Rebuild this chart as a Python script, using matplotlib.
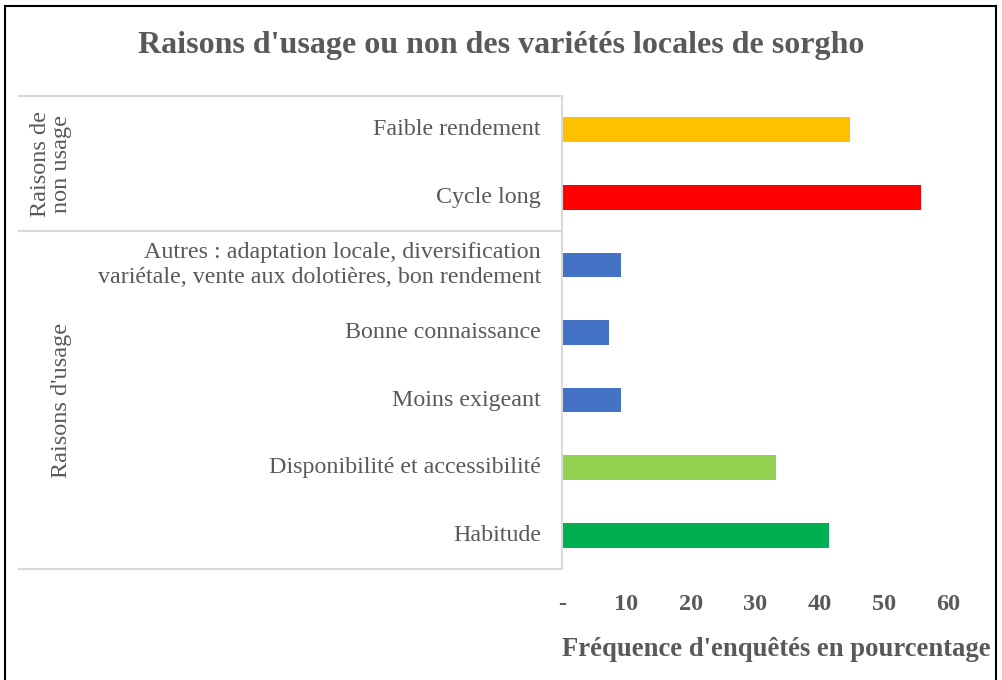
import matplotlib
matplotlib.use("Agg")
import matplotlib.pyplot as plt
from matplotlib.lines import Line2D

plt.rcParams['font.family'] = ['Liberation Serif', 'DejaVu Serif']

# Data (top to bottom)
categories = [
    "Faible rendement",
    "Cycle long",
    "Autres : adaptation locale, diversification\nvariétale, vente aux dolotières, bon rendement",
    "Bonne connaissance",
    "Moins exigeant",
    "Disponibilité et accessibilité",
    "Habitude",
]
values = [44.8, 55.8, 9.2, 7.3, 9.2, 33.3, 41.5]
colors = ["#FFC000", "#FF0000", "#4472C4", "#4472C4", "#4472C4", "#92D050", "#00B050"]
groups = ["Raisons de\nnon usage", "Raisons d'usage"]
group_sizes = [2, 5]
xticks = [0, 10, 20, 30, 40, 50, 60]
xticklabels = ["-", "10", "20", "30", "40", "50", "60"]

W, H = 1003, 680
fig = plt.figure(figsize=(W / 100, H / 100), dpi=100)
TXT = "#595959"
GRID = "#D9D9D9"

def fx(px):
    return px / W

def fy(py):
    return 1 - py / H

ax_left, ax_right, ax_top, ax_bot = 562, 948, 96, 569
ax = fig.add_axes([fx(ax_left), fy(ax_bot), fx(ax_right - ax_left), (ax_bot - ax_top) / H])

n = len(categories)
ypos = list(range(n))
ax.barh(ypos, values, height=0.365, color=colors)
ax.set_ylim(n - 0.5, -0.5)
ax.set_xlim(0, 60)
ax.set_yticks([])
ax.set_xticks(xticks)
ax.set_xticklabels(xticklabels, fontsize=17.5, fontweight='bold', color=TXT)
ax.tick_params(axis='x', length=0, pad=18)
for s in ['top', 'right', 'bottom']:
    ax.spines[s].set_visible(False)
ax.spines['left'].set_color(GRID)
ax.spines['left'].set_linewidth(1.5)

# Category labels (right-aligned next to axis)
for i, c in enumerate(categories):
    ax.text(-0.055, i, c, transform=ax.get_yaxis_transform(), ha='right', va='center',
            fontsize=17.3, color=TXT, linespacing=1.3)

# Group box lines
left_px = 19
bounds = [0]
for g in group_sizes:
    bounds.append(bounds[-1] + g)
for b in bounds:
    ypx = ax_top + (ax_bot - ax_top) * b / n
    fig.add_artist(Line2D([fx(left_px), fx(ax_left)], [fy(ypx), fy(ypx)], color=GRID, lw=1.5))

# Group labels
group_x = [51, 62]
for gi, g in enumerate(groups):
    y0 = ax_top + (ax_bot - ax_top) * bounds[gi] / n
    y1 = ax_top + (ax_bot - ax_top) * bounds[gi + 1] / n
    fig.text(fx(group_x[gi]), fy((y0 + y1) / 2), g, rotation=90, ha='center', va='center',
             fontsize=17.5, color=TXT, linespacing=1.0)

# Title
fig.text(fx(501), fy(46), "Raisons d'usage ou non des variétés locales de sorgho",
         ha='center', va='center', fontsize=23, fontweight='bold', color=TXT)

# X label
fig.text(fx(776), fy(650), "Fréquence d'enquêtés en pourcentage",
         ha='center', va='center', fontsize=19.2, fontweight='bold', color=TXT)

# Outer border (top, left, right)
fig.add_artist(Line2D([fx(5.5), fx(5.5)], [fy(5.5), 0], color='black', lw=1.5))
fig.add_artist(Line2D([fx(5.5), fx(996.5)], [fy(5.5), fy(5.5)], color='black', lw=1.5))
fig.add_artist(Line2D([fx(996.5), fx(996.5)], [fy(5.5), 0], color='black', lw=1.5))

fig.savefig("out.png", dpi=100)
